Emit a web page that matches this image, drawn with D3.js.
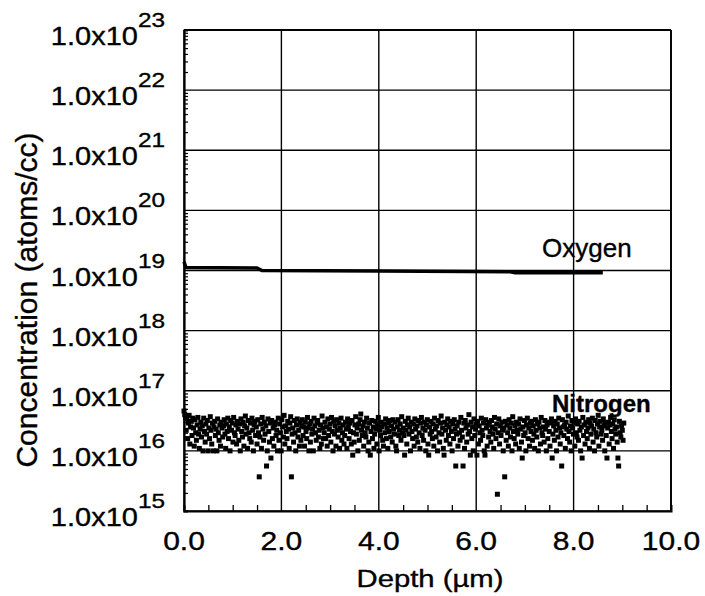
<!DOCTYPE html>
<html>
<head>
<meta charset="utf-8">
<script src="https://cdn.jsdelivr.net/npm/d3@7"></script>
<style>
  html, body { margin: 0; padding: 0; background: #fff; }
  svg { display: block; }
  text { font-family: "Liberation Sans", Arial, Helvetica, sans-serif; fill: #000; stroke: #000; stroke-width: 0.35px; }
</style>
</head>
<body>
<svg id="chart" width="705" height="596"></svg>
<script>
// SIMS depth profile: oxygen and nitrogen concentration vs depth

// Oxygen profile (depth in µm, concentration in atoms/cc)
const oxygenDepth = [0, 0.04, 1.5, 1.6, 4.0, 6.7, 6.8, 8.6];
const oxygenConc  = [1.4e19, 1.12e19, 1.1e19, 1.0e19, 0.98e19, 0.95e19, 0.92e19, 0.92e19];

// Nitrogen profile, sampled every 0.015 µm from 0 µm (values in units of 1e16 atoms/cc)
const nitrogenStep = 0.015;
const nitrogenConc = [
  4.6, 4.0, 3.6, 2.2, 3.4, 1.6, 2.9, 3.9, 1.3, 2.5, 3.1, 1.8, 3.5, 2.4, 1.2, 3.3, 2.0, 1.5, 2.7, 3.6,
  1.9, 1.1, 2.3, 3.0, 1.7, 2.6, 1.0, 3.5, 2.1, 1.4, 2.8, 1.9, 3.2, 1.0, 2.4, 1.6, 3.7, 2.2, 1.3, 2.9,
  1.0, 2.5, 3.1, 1.8, 2.3, 1.0, 3.4, 2.0, 1.5, 2.7, 1.2, 3.0, 2.4, 1.7, 2.6, 3.3, 1.9, 1.1, 2.8, 2.1,
  3.5, 1.6, 2.5, 1.0, 3.2, 2.2, 2.9, 1.4, 3.6, 2.0, 1.8, 2.7, 1.3, 3.1, 2.3, 1.5, 2.8, 1.0, 3.4, 2.1,
  1.7, 3.0, 1.2, 2.6, 3.8, 1.9, 2.4, 1.1, 3.2, 2.0, 1.6, 2.9, 1.4, 3.5, 2.2, 1.0, 2.7, 3.1, 1.8, 2.5,
  1.3, 3.3, 2.0, 0.37, 1.7, 2.8, 1.1, 3.6, 2.3, 1.5, 3.0, 1.9, 2.6, 0.56, 1.0, 3.4, 2.1, 1.4, 2.9, 0.76,
  3.2, 1.6, 2.4, 1.2, 2.7, 3.0, 1.8, 2.2, 1.0, 3.5, 1.5, 2.8, 2.0, 1.0, 3.3, 2.5, 1.7, 3.9, 1.3, 2.6,
  2.1, 1.6, 3.1, 2.3, 1.1, 2.9, 3.7, 0.37, 1.9, 2.4, 1.4, 3.2, 2.0, 1.0, 2.7, 3.4, 1.7, 2.2, 1.2, 3.0,
  1.5, 2.6, 3.3, 1.8, 2.5, 1.2, 3.0, 2.1, 1.6, 3.6, 2.4, 1.0, 2.8, 1.4, 3.1, 1.9, 2.3, 1.0, 3.5, 2.6,
  2.0, 1.5, 2.9, 3.2, 1.7, 2.2, 1.1, 2.7, 1.3, 3.8, 2.4, 1.6, 2.0, 3.0, 1.6, 2.5, 1.2, 3.4, 1.8, 2.3,
  2.8, 1.4, 3.6, 2.1, 1.0, 3.1, 1.9, 2.6, 1.2, 3.3, 2.2, 1.7, 2.9, 1.1, 2.4, 3.5, 1.5, 2.0, 2.7, 1.3,
  1.8, 3.0, 2.3, 1.1, 3.4, 2.5, 1.6, 2.9, 2.1, 1.3, 3.2, 0.85, 2.0, 1.4, 2.7, 3.7, 1.9, 2.4, 1.0, 2.8,
  1.5, 3.3, 4.1, 2.2, 1.8, 2.6, 1.2, 3.0, 2.0, 1.7, 3.5, 2.4, 1.0, 1.4, 2.9, 0.85, 2.1, 3.2, 1.6, 2.5,
  1.1, 1.9, 3.1, 2.3, 1.3, 2.7, 3.6, 1.0, 2.2, 1.8, 3.0, 2.5, 1.5, 1.2, 2.8, 2.0, 3.4, 1.6, 2.4, 1.1,
  2.9, 2.1, 3.2, 1.7, 2.6, 1.4, 3.3, 2.3, 1.9, 3.0, 1.2, 1.0, 2.5, 3.3, 1.8, 2.2, 2.8, 1.5, 3.7, 2.0,
  2.4, 1.8, 0.85, 3.1, 2.2, 1.3, 2.7, 3.5, 1.9, 2.5, 1.0, 3.0, 2.1, 1.6, 2.8, 1.2, 3.4, 2.3, 1.7, 2.6,
  1.4, 3.2, 2.0, 1.1, 2.9, 3.6, 1.8, 2.4, 1.5, 3.0, 2.2, 1.0, 2.7, 3.3, 1.3, 0.85, 2.5, 1.9, 3.1, 2.1,
  1.6, 2.8, 1.2, 3.5, 2.3, 1.7, 2.6, 1.0, 3.2, 2.0, 1.4, 2.9, 3.8, 1.9, 2.4, 1.1, 0.85, 3.0, 2.2, 1.5,
  2.7, 3.4, 1.8, 2.5, 1.3, 3.1, 2.1, 1.0, 2.8, 1.6, 3.3, 2.3, 0.56, 1.9, 2.6, 1.2, 3.0, 2.0, 1.5, 3.6,
  2.2, 1.7, 0.56, 2.9, 1.1, 3.2, 2.4, 1.4, 2.7, 1.9, 4.0, 2.1, 0.85, 3.0, 1.6, 2.5, 1.0, 3.4, 1.8, 2.3,
  2.8, 0.85, 3.1, 1.3, 2.6, 2.0, 1.5, 3.5, 2.2, 1.8, 2.9, 1.0, 0.85, 3.3, 2.4, 1.2, 2.7, 1.7, 3.0, 2.1,
  1.4, 3.2, 2.5, 1.9, 1.1, 3.6, 2.3, 1.6, 2.8, 0.19, 2.0, 3.4, 1.3, 2.6, 1.8, 3.0, 2.2, 1.0, 2.4, 0.37,
  3.1, 1.5, 2.7, 2.0, 1.2, 3.3, 2.4, 1.7, 2.9, 1.0, 3.7, 2.1, 1.6, 2.6, 1.3, 3.0, 2.2, 1.9, 2.8, 1.1,
  3.4, 2.3, 1.4, 0.76, 2.5, 1.8, 3.2, 2.0, 1.0, 2.7, 3.5, 1.6, 2.4, 1.2, 2.9, 2.1, 3.1, 1.5, 2.6, 1.9,
  1.1, 3.3, 2.2, 1.7, 2.8, 1.0, 3.0, 2.4, 1.3, 3.6, 2.0, 1.8, 2.5, 1.4, 3.2, 2.3, 1.0, 2.7, 1.6, 3.0,
  2.1, 1.2, 2.9, 3.4, 0.76, 1.9, 2.6, 1.5, 3.1, 2.2, 1.0, 2.8, 1.7, 3.5, 2.4, 1.3, 2.0, 0.56, 3.3, 2.5,
  1.8, 2.7, 1.1, 3.0, 2.3, 1.6, 3.8, 2.1, 1.4, 2.6, 1.0, 3.2, 2.4, 1.9, 2.9, 1.2, 3.4, 2.0, 1.7, 2.8,
  1.5, 3.1, 2.2, 1.0, 2.5, 0.76, 3.6, 1.8, 2.7, 1.3, 3.0, 2.1, 1.6, 2.4, 3.3, 1.1, 2.9, 1.9, 2.6, 3.5,
  1.4, 2.3, 1.0, 3.2, 2.0, 1.7, 2.8, 3.9, 1.2, 2.5, 3.1, 1.9, 2.2, 1.5, 3.4, 2.6, 1.0, 2.9, 1.8, 0.76,
  2.4, 3.0, 1.3, 2.7, 3.6, 2.1, 1.6, 2.8, 1.1, 3.3, 2.3, 1.9, 2.5, 1.4, 0.76, 0.56, 3.1, 2.0, 1.7, 2.6,
  2.2, 1.5, 2.9
];
const nitrogenUnit = 1e16;

// Axis ticks
const xTicks = [0, 2, 4, 6, 8, 10];
const xMinorTicks = [0.5, 1, 1.5, 2.5, 3, 3.5, 4.5, 5, 5.5, 6.5, 7, 7.5, 8.5, 9, 9.5];
const yExponents = [15, 16, 17, 18, 19, 20, 21, 22, 23];

(function () {
  const svg = d3.select("#chart");
  const pLeft = 184, pRight = 671, pTop = 30, pBottom = 511;

  const x = d3.scaleLinear().domain([0, 10]).range([pLeft, pRight]);
  const y = d3.scaleLog().domain([1e15, 1e23]).range([pBottom, pTop]);

  // grid lines
  const grid = svg.append("g").attr("stroke", "#000").attr("stroke-width", 1.4);
  grid.selectAll("line.v").data(xTicks).join("line")
    .attr("x1", d => x(d)).attr("x2", d => x(d))
    .attr("y1", pTop).attr("y2", pBottom);
  grid.selectAll("line.h").data(yExponents).join("line")
    .attr("x1", pLeft).attr("x2", pRight)
    .attr("y1", d => y(Math.pow(10, d))).attr("y2", d => y(Math.pow(10, d)));

  // left axis with log minor ticks pointing inward
  const yMinor = [];
  for (let e = 15; e < 23; e++) for (let m = 2; m <= 9; m++) yMinor.push(m * Math.pow(10, e));
  const yAxis = d3.axisRight(y).tickValues(yMinor).tickSize(4).tickFormat("");
  svg.append("g").attr("transform", `translate(${pLeft},0)`).call(yAxis)
    .call(g => g.select(".domain").attr("stroke-width", 2.2))
    .call(g => g.selectAll(".tick line").attr("stroke-width", 1.2));

  // bottom axis with minor ticks pointing inward
  const xAxis = d3.axisTop(x).tickValues(xMinorTicks).tickSize(6).tickFormat("");
  svg.append("g").attr("transform", `translate(0,${pBottom})`).call(xAxis)
    .call(g => g.select(".domain").attr("stroke-width", 2))
    .call(g => g.selectAll(".tick line").attr("stroke-width", 1.3));

  // frame (top and right)
  svg.append("line").attr("x1", pLeft).attr("x2", pRight).attr("y1", pTop).attr("y2", pTop)
    .attr("stroke", "#000").attr("stroke-width", 2);
  svg.append("line").attr("x1", pRight).attr("x2", pRight).attr("y1", pTop).attr("y2", pBottom)
    .attr("stroke", "#000").attr("stroke-width", 1.8);

  // y tick labels: 1.0x10^n
  const yLab = svg.append("g").selectAll("g").data(yExponents).join("g")
    .attr("transform", d => `translate(165,${y(Math.pow(10, d)) + 15}) scale(1.16,1)`);
  const yText = yLab.append("text").attr("text-anchor", "end").attr("font-size", 25);
  yText.append("tspan").text("1.0x10");
  yText.append("tspan").attr("font-size", 21).attr("dy", -18).text(d => d);

  // x tick labels
  svg.append("g").selectAll("text").data(xTicks).join("text")
    .attr("transform", d => `translate(${x(d)},550) scale(1.2,1)`)
    .attr("text-anchor", "middle").attr("font-size", 25)
    .text(d => d.toFixed(1));

  // axis titles
  svg.append("text")
    .attr("transform", "translate(430,587) scale(1.22,1)")
    .attr("text-anchor", "middle").attr("font-size", 24)
    .text("Depth (µm)");
  svg.append("text")
    .attr("transform", "translate(37,300) rotate(-90)")
    .attr("text-anchor", "middle").attr("font-size", 30)
    .text("Concentration (atoms/cc)");

  // oxygen line
  const oxygen = oxygenDepth.map((d, i) => [d, oxygenConc[i]]);
  svg.append("path").datum(oxygen)
    .attr("fill", "none").attr("stroke", "#000").attr("stroke-width", 3.5)
    .attr("d", d3.line().x(d => x(d[0])).y(d => y(d[1])));

  // nitrogen points
  const nitrogen = nitrogenConc.map((v, i) => [i * nitrogenStep, v * nitrogenUnit]);
  svg.append("g").selectAll("rect").data(nitrogen).join("rect")
    .attr("x", d => x(d[0]) - 2.5).attr("y", d => y(d[1]) - 2.5)
    .attr("width", 5).attr("height", 5).attr("fill", "#000");

  // series labels
  svg.append("text").attr("x", 542).attr("y", 257).attr("font-size", 26).text("Oxygen");
  svg.append("text").attr("x", 552).attr("y", 412).attr("font-size", 24)
    .attr("font-weight", "bold").text("Nitrogen");
})();
</script>
</body>
</html>
